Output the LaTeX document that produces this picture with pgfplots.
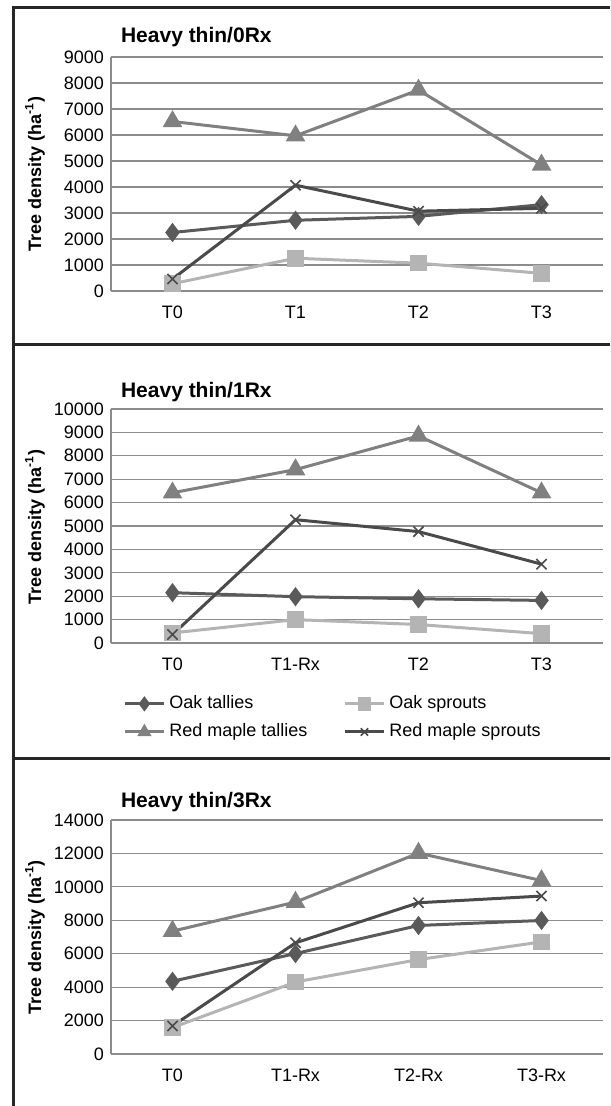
\documentclass[border=0pt]{standalone}
\usepackage{pgfplots}
\pgfplotsset{compat=1.18}
\usepackage{fontspec}
\setmainfont{Liberation Sans}

\definecolor{oakt}{HTML}{5A5A5A}
\definecolor{oaks}{HTML}{B4B4B4}
\definecolor{rmt}{HTML}{808080}
\definecolor{rms}{HTML}{4A4A4A}
\definecolor{frame}{HTML}{262626}

\newcommand{\ylab}{\bfseries Tree density (ha\textsuperscript{-1})}

\pgfplotsset{
  panel/.style={
    scale only axis, width=246pt, height=117pt,
    xmin=-0.5, xmax=3.5, xtick={0,1,2,3},
    ymin=0, scaled y ticks=false,
    axis x line*=bottom, axis y line*=left,
    axis line style={black!45, line width=0.6pt},
    ymajorgrids, grid style={black!45, line width=0.6pt},
    major tick length=0pt,
    tick label style={font=\fontsize{9}{10}\selectfont},
    xticklabel style={yshift=-4pt},
    /pgf/number format/assume math mode=true,
    /pgf/number format/1000 sep={},
    clip=false,
    legend image code/.code={
      \draw[mark repeat=2,mark phase=2]
        plot coordinates {(0pt,0pt) (9.75pt,0pt) (19.5pt,0pt)};},
  },
  oakt/.style={color=oakt, line width=1.5pt, mark=diamond*, mark size=3.6pt, mark options={solid}},
  oaks/.style={color=oaks, line width=1.5pt, mark=square*, mark size=3.4pt, mark options={solid}},
  rmt/.style={color=rmt, line width=1.5pt, mark=triangle*, mark size=4.2pt, mark options={solid}},
  rms/.style={color=rms, line width=1.5pt, mark=x, mark size=3.6pt, mark options={solid, line width=0.8pt}},
}

\begin{document}
\begin{tikzpicture}
\path[use as bounding box] (0,0) rectangle (305pt,-553pt);

% panel frames
\draw[frame, line width=1.5pt] (6.5pt,-553pt) -- (6.5pt,-4pt) -- (305pt,-4pt);
\draw[frame, line width=1.5pt] (6.5pt,-172.5pt) -- (305pt,-172.5pt);
\draw[frame, line width=1.5pt] (6.5pt,-379pt) -- (305pt,-379pt);

% Heavy thin/0Rx
\begin{axis}[panel, at={(55.5pt,-145.5pt)}, anchor=south west,
  ymax=9000, ytick={0,1000,...,9000},
  xticklabels={T0,T1,T2,T3}]
\addplot[oakt] coordinates {(0,2250) (1,2720) (2,2870) (3,3320)};
\addplot[oaks] coordinates {(0,280) (1,1260) (2,1070) (3,680)};
\addplot[rmt] coordinates {(0,6520) (1,5970) (2,7730) (3,4850)};
\addplot[rms] coordinates {(0,460) (1,4070) (2,3070) (3,3180)};
\end{axis}
\node[anchor=west, font=\fontsize{10.5}{12}\selectfont\bfseries] at (57pt,-18.5pt) {Heavy thin/0Rx};
\node[rotate=90, font=\fontsize{9}{10}\selectfont] at (17.5pt,-87pt) {\ylab};

% Heavy thin/1Rx
\begin{axis}[panel, at={(55.5pt,-321.5pt)}, anchor=south west,
  ymax=10000, ytick={0,1000,...,10000},
  xticklabels={T0,T1-Rx,T2,T3},
  legend columns=2,
  legend cell align=left,
  legend style={draw=none, fill=none, inner sep=0pt,
    at={(0.0244,-0.207)}, anchor=north west,
    font=\fontsize{9}{10}\selectfont,
    row sep=2pt,
    /tikz/every even column/.append style={column sep=16pt}},
  legend image post style={mark size=2.6pt}]
\addplot[oakt] coordinates {(0,2150) (1,1980) (2,1890) (3,1820)};
\addlegendentry{Oak tallies}
\addplot[oaks] coordinates {(0,430) (1,1000) (2,790) (3,400)};
\addlegendentry{Oak sprouts}
\addplot[rmt] coordinates {(0,6420) (1,7410) (2,8850) (3,6420)};
\addlegendentry{Red maple tallies}
\addplot[rms] coordinates {(0,360) (1,5270) (2,4760) (3,3370)};
\addlegendentry{Red maple sprouts}
\end{axis}
\node[anchor=west, font=\fontsize{10.5}{12}\selectfont\bfseries] at (57pt,-196pt) {Heavy thin/1Rx};
\node[rotate=90, font=\fontsize{9}{10}\selectfont] at (17.5pt,-263.5pt) {\ylab};

% Heavy thin/3Rx
\begin{axis}[panel, at={(55.5pt,-527pt)}, anchor=south west,
  ymax=14000, ytick={0,2000,...,14000},
  xticklabels={T0,T1-Rx,T2-Rx,T3-Rx}]
\addplot[oakt] coordinates {(0,4350) (1,6010) (2,7690) (3,7990)};
\addplot[oaks] coordinates {(0,1580) (1,4310) (2,5650) (3,6710)};
\addplot[rmt] coordinates {(0,7350) (1,9090) (2,12020) (3,10380)};
\addplot[rms] coordinates {(0,1680) (1,6650) (2,9050) (3,9450)};
\end{axis}
\node[anchor=west, font=\fontsize{10.5}{12}\selectfont\bfseries] at (57pt,-401pt) {Heavy thin/3Rx};
\node[rotate=90, font=\fontsize{9}{10}\selectfont] at (17.5pt,-468.75pt) {\ylab};
\end{tikzpicture}
\end{document}
